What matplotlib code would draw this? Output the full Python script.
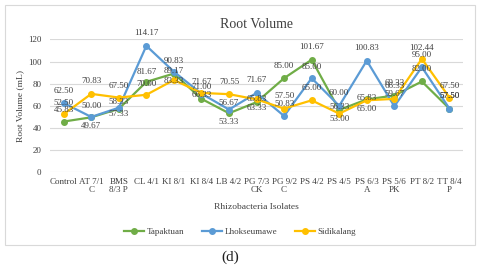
import matplotlib
matplotlib.use("Agg")
import matplotlib.pyplot as plt
from matplotlib.patches import Rectangle

isolates = ["Control", "AT 7/1\nC", "BMS\n8/3 P", "CL 4/1", "KI 8/1", "KI 8/4", "LB 4/2",
            "PG 7/3\nCK", "PG 9/2\nC", "PS 4/2", "PS 4/5", "PS 6/3\nA", "PS 5/6\nPK",
            "PT 8/2", "TT 8/4\nP"]

tapaktuan = [45.83, 49.67, 57.33, 81.67, 89.17, 66.33, 53.33, 63.33, 85.00, 101.67,
             56.33, 65.83, 69.33, 82.00, 57.50]
lhokseumawe = [62.50, 50.00, 58.33, 114.17, 90.83, 71.00, 56.67, 71.67, 50.83, 85.00,
               60.00, 100.83, 59.67, 95.00, 57.50]
sidikalang = [52.50, 70.83, 67.50, 70.00, 83.33, 71.67, 70.55, 65.83, 57.50, 65.00,
              53.00, 65.00, 66.33, 102.44, 67.50]

# vertical shift of each data label (points, + is above the marker)
tap_dy = [8, -6, -4, 7, 2, 3, -6, -4, 9, 9, 2, 1, 9, 9, 9]
lho_dy = [9, 8, 4, 9, 8, 5, 5, 9, 9, 8, 9, 9, 9, 9, 9]
sid_dy = [8, 9, 8, 8, -1, 8, 9, 0, 9, 9, -4, -6, 9, 8, 8]

SERIF = ["Liberation Serif", "DejaVu Serif"]
plt.rcParams["font.family"] = SERIF
TXT = "#404040"

fig = plt.figure(figsize=(4.8, 2.68), dpi=100)
ax = fig.add_axes([0.104, 0.357, 0.861, 0.496])

x = list(range(len(isolates)))
series = [
    ("Tapaktuan", tapaktuan, "#70AD47", tap_dy),
    ("Lhokseumawe", lhokseumawe, "#5B9BD5", lho_dy),
    ("Sidikalang", sidikalang, "#FFC000", sid_dy),
]
for name, vals, col, dys in series:
    ax.plot(x, vals, color=col, lw=1.6, marker="o", ms=4, label=name, zorder=3)
for name, vals, col, dys in series:
    for xi, v, dy in zip(x, vals, dys):
        ax.annotate(f"{v:.2f}", (xi, v), xytext=(0, dy), textcoords="offset points",
                    ha="center", va="center", fontsize=6.5, color=TXT, zorder=4)

ax.set_xlim(-0.5, len(isolates) - 0.5)
ax.set_ylim(0, 120)
ax.set_yticks(range(0, 121, 20))
ax.set_xticks(x)
ax.set_xticklabels(isolates, linespacing=1.05)
ax.tick_params(length=0, labelsize=6.5, labelcolor=TXT)
ax.tick_params(axis="y", pad=6)
ax.tick_params(axis="x", pad=4)
ax.grid(axis="y", color="#d9d9d9", lw=0.8)
ax.set_axisbelow(True)
for s in ax.spines.values():
    s.set_visible(False)

ax.set_title("Root Volume", fontsize=10, color=TXT, pad=8)
ax.set_xlabel("Rhizobacteria Isolates", fontsize=6.8, color=TXT, labelpad=6)
ax.set_ylabel("Root Volume (mL)", fontsize=6.8, color=TXT, labelpad=3)

fig.legend(loc="center", bbox_to_anchor=(0.5, 0.134), ncol=3, frameon=False,
           fontsize=6.5, handlelength=2.2, columnspacing=2.0, handletextpad=0.3,
           labelcolor=TXT)

fig.patches.append(Rectangle((5 / 480, 1 - 245 / 268), 470 / 480, 240 / 268,
                             transform=fig.transFigure, fill=False,
                             edgecolor="#d9d9d9", lw=0.8))
fig.text(0.48, 1 - 257 / 268, "(d)", ha="center", va="center", fontsize=11,
         color="#202020")

fig.savefig("out.png", dpi=100)
